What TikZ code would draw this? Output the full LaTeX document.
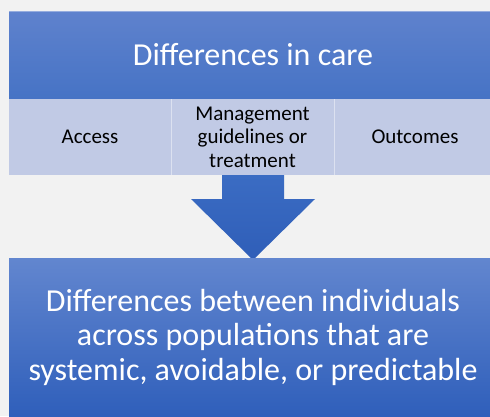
\documentclass[tikz,border=0pt]{standalone}
\usepackage{fontspec}
\setmainfont{Carlito}
\definecolor{bg}{HTML}{F2F2F2}
\definecolor{toptop}{HTML}{5F82CD}
\definecolor{topbot}{HTML}{4673C5}
\definecolor{rowfill}{HTML}{C1CAE5}
\definecolor{arrtop}{HTML}{3B6CC3}
\definecolor{arrbot}{HTML}{2F5EB8}
\definecolor{bottop}{HTML}{6286CF}
\definecolor{botbot}{HTML}{2E5EBA}
\tikzset{
  headbox/.style={rectangle, inner sep=0pt, text=white, align=center},
  cellbox/.style={rectangle, fill=rowfill, inner sep=0pt, text=black, align=center,
    font=\fontsize{21}{23.4}\selectfont},
}
\begin{document}
\begin{tikzpicture}[x=1pt,y=-1pt]
\useasboundingbox (0,0) rectangle (490,416);
\fill[bg] (0,0) rectangle (490,416);
\begin{scope}
\clip (0,0) rectangle (490,416);
% top header
\shade[top color=toptop, bottom color=topbot] (9,11) rectangle (497,99);
\draw[white, opacity=0.35, line width=0.8pt] (9,11.4) -- (497,11.4);
\node[headbox, font=\fontsize{32}{36}\selectfont] (title) at (253,55) {Differences in care};
% row cells
\node[cellbox, minimum width=162pt, minimum height=76pt] (access) at (90,137) {Access};
\node[cellbox, minimum width=163pt, minimum height=76pt] (mgmt) at (252.5,137) {Management\\guidelines or\\treatment};
\node[cellbox, minimum width=163pt, minimum height=76pt] (outc) at (415,137) {Outcomes};
\draw[white, opacity=0.45, line width=0.6pt] (171,99) -- (171,175);
\draw[white, opacity=0.45, line width=0.6pt] (334,99) -- (334,175);
% arrow
\shade[top color=arrtop, bottom color=arrbot]
  (222,175) -- (284,175) -- (284,199) -- (315,199) -- (253,260) -- (191,199) -- (222,199) -- cycle;
% bottom box
\shade[top color=bottop, bottom color=botbot] (9,258) rectangle (497,420);
\node[headbox, font=\fontsize{32}{34.5}\selectfont] (result) at (253,337)
  {Differences between individuals\\across populations that are\\systemic, avoidable, or predictable};
\end{scope}
\end{tikzpicture}
\end{document}
